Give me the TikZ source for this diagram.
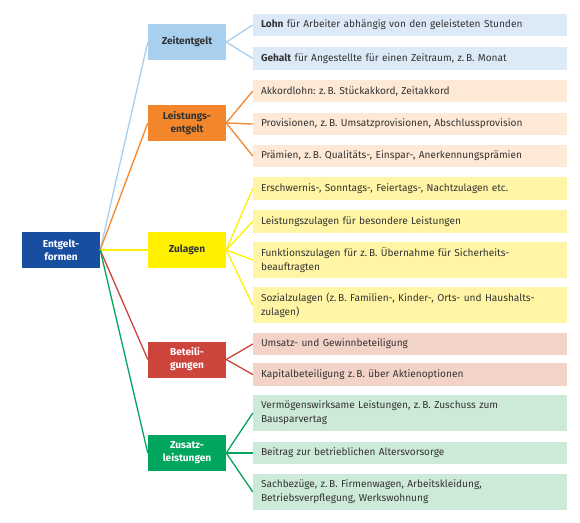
\documentclass[tikz,border=0pt]{standalone}
\usepackage{fontspec}
\setmainfont{Fira Sans}
\frenchspacing
\definecolor{rootC}{HTML}{174EA0}
\definecolor{zeitC}{HTML}{A9CFEF}
\definecolor{zeitL}{HTML}{DCEAF7}
\definecolor{leisC}{HTML}{F3862B}
\definecolor{leisL}{HTML}{FDE9D6}
\definecolor{zulC}{HTML}{FFF000}
\definecolor{zulL}{HTML}{FFF5A5}
\definecolor{betC}{HTML}{CC443B}
\definecolor{betL}{HTML}{F3D3C8}
\definecolor{zusC}{HTML}{00A65D}
\definecolor{zusL}{HTML}{CDE9D7}
\definecolor{txt}{HTML}{333333}
\tikzset{
  box/.style={rectangle, inner sep=0pt, align=center, minimum width=78pt, minimum height=36pt,
    font=\fontsize{10.1}{13}\selectfont\bfseries, text=txt},
  leaf/.style={rectangle, inner xsep=8pt, inner ysep=0pt, text width=298pt, align=left,
    minimum height=22.5pt, font=\fontsize{10.1}{14}\selectfont, text=txt},
  tall/.style={minimum height=36pt},
  conn/.style={line width=1.3pt},
}
\begin{document}
\begin{tikzpicture}[x=1pt,y=-1pt]
\useasboundingbox (0,0) rectangle (580,522);
% root and categories
\node[box, fill=rootC, text=white] (root) at (61,250) {Entgelt-\\formen};
\node[box, fill=zeitC] (zeit) at (187,42) {Zeitentgelt};
\node[box, fill=leisC] (leis) at (187,123) {Leistungs-\\entgelt};
\node[box, fill=zulC] (zul) at (187,250) {Zulagen};
\node[box, fill=betC, text=white] (bet) at (187,359.5) {Beteili-\\gungen};
\node[box, fill=zusC, text=white] (zus) at (187,453) {Zusatz-\\leistungen};
% leaves
\node[leaf, fill=zeitL] (l1) at (410,25) {\textbf{Lohn} für Arbeiter abhängig von den geleisteten Stunden};
\node[leaf, fill=zeitL] (l2) at (410,58.5) {\textbf{Gehalt} für Angestellte für einen Zeitraum, z.\,B. Monat};
\node[leaf, fill=leisL] (a1) at (410,91) {Akkordlohn: z.\,B. Stückakkord, Zeitakkord};
\node[leaf, fill=leisL] (a2) at (410,124) {Provisionen, z.\,B. Umsatzprovisionen, Abschlussprovision};
\node[leaf, fill=leisL] (a3) at (410,156) {Prämien, z.\,B. Qualitäts-, Einspar-, Anerkennungsprämien};
\node[leaf, fill=zulL] (z1) at (410,188.5) {Erschwernis-, Sonntags-, Feiertags-, Nachtzulagen etc.};
\node[leaf, fill=zulL] (z2) at (410,221.5) {Leistungszulagen für besondere Leistungen};
\node[leaf, tall, fill=zulL] (z3) at (410,260) {Funktionszulagen für z.\,B. Übernahme für Sicherheits-\\beauftragten};
\node[leaf, tall, fill=zulL] (z4) at (410,305) {Sozialzulagen (z.\,B. Familien-, Kinder-, Orts- und Haushalts-\\zulagen)};
\node[leaf, fill=betL] (b1) at (410,344) {Umsatz- und Gewinnbeteiligung};
\node[leaf, fill=betL] (b2) at (410,374.5) {Kapitalbeteiligung z.\,B. über Aktienoptionen};
\node[leaf, tall, fill=zusL] (s1) at (410,413) {Vermögenswirksame Leistungen, z.\,B. Zuschuss zum\\Bausparvertag};
\node[leaf, fill=zusL] (s2) at (410,453) {Beitrag zur betrieblichen Altersvorsorge};
\node[leaf, tall, fill=zusL] (s3) at (410,492) {Sachbezüge, z.\,B. Firmenwagen, Arbeitskleidung,\\Betriebsverpflegung, Werkswohnung};
% connectors root -> categories
\draw[conn, zeitC] (root.east) -- (zeit.west);
\draw[conn, leisC] (root.east) -- (leis.west);
\draw[conn, zulC] (root.east) -- (zul.west);
\draw[conn, betC] (root.east) -- (bet.west);
\draw[conn, zusC] (root.east) -- (zus.west);
% connectors categories -> leaves
\foreach \l in {l1,l2} \draw[conn, zeitC] (zeit.east) -- (\l.west);
\foreach \l in {a1,a2,a3} \draw[conn, leisC] (leis.east) -- (\l.west);
\foreach \l in {z1,z2,z3,z4} \draw[conn, zulC] (zul.east) -- (\l.west);
\foreach \l in {b1,b2} \draw[conn, betC] (bet.east) -- (\l.west);
\foreach \l in {s1,s2,s3} \draw[conn, zusC] (zus.east) -- (\l.west);
\end{tikzpicture}
\end{document}
